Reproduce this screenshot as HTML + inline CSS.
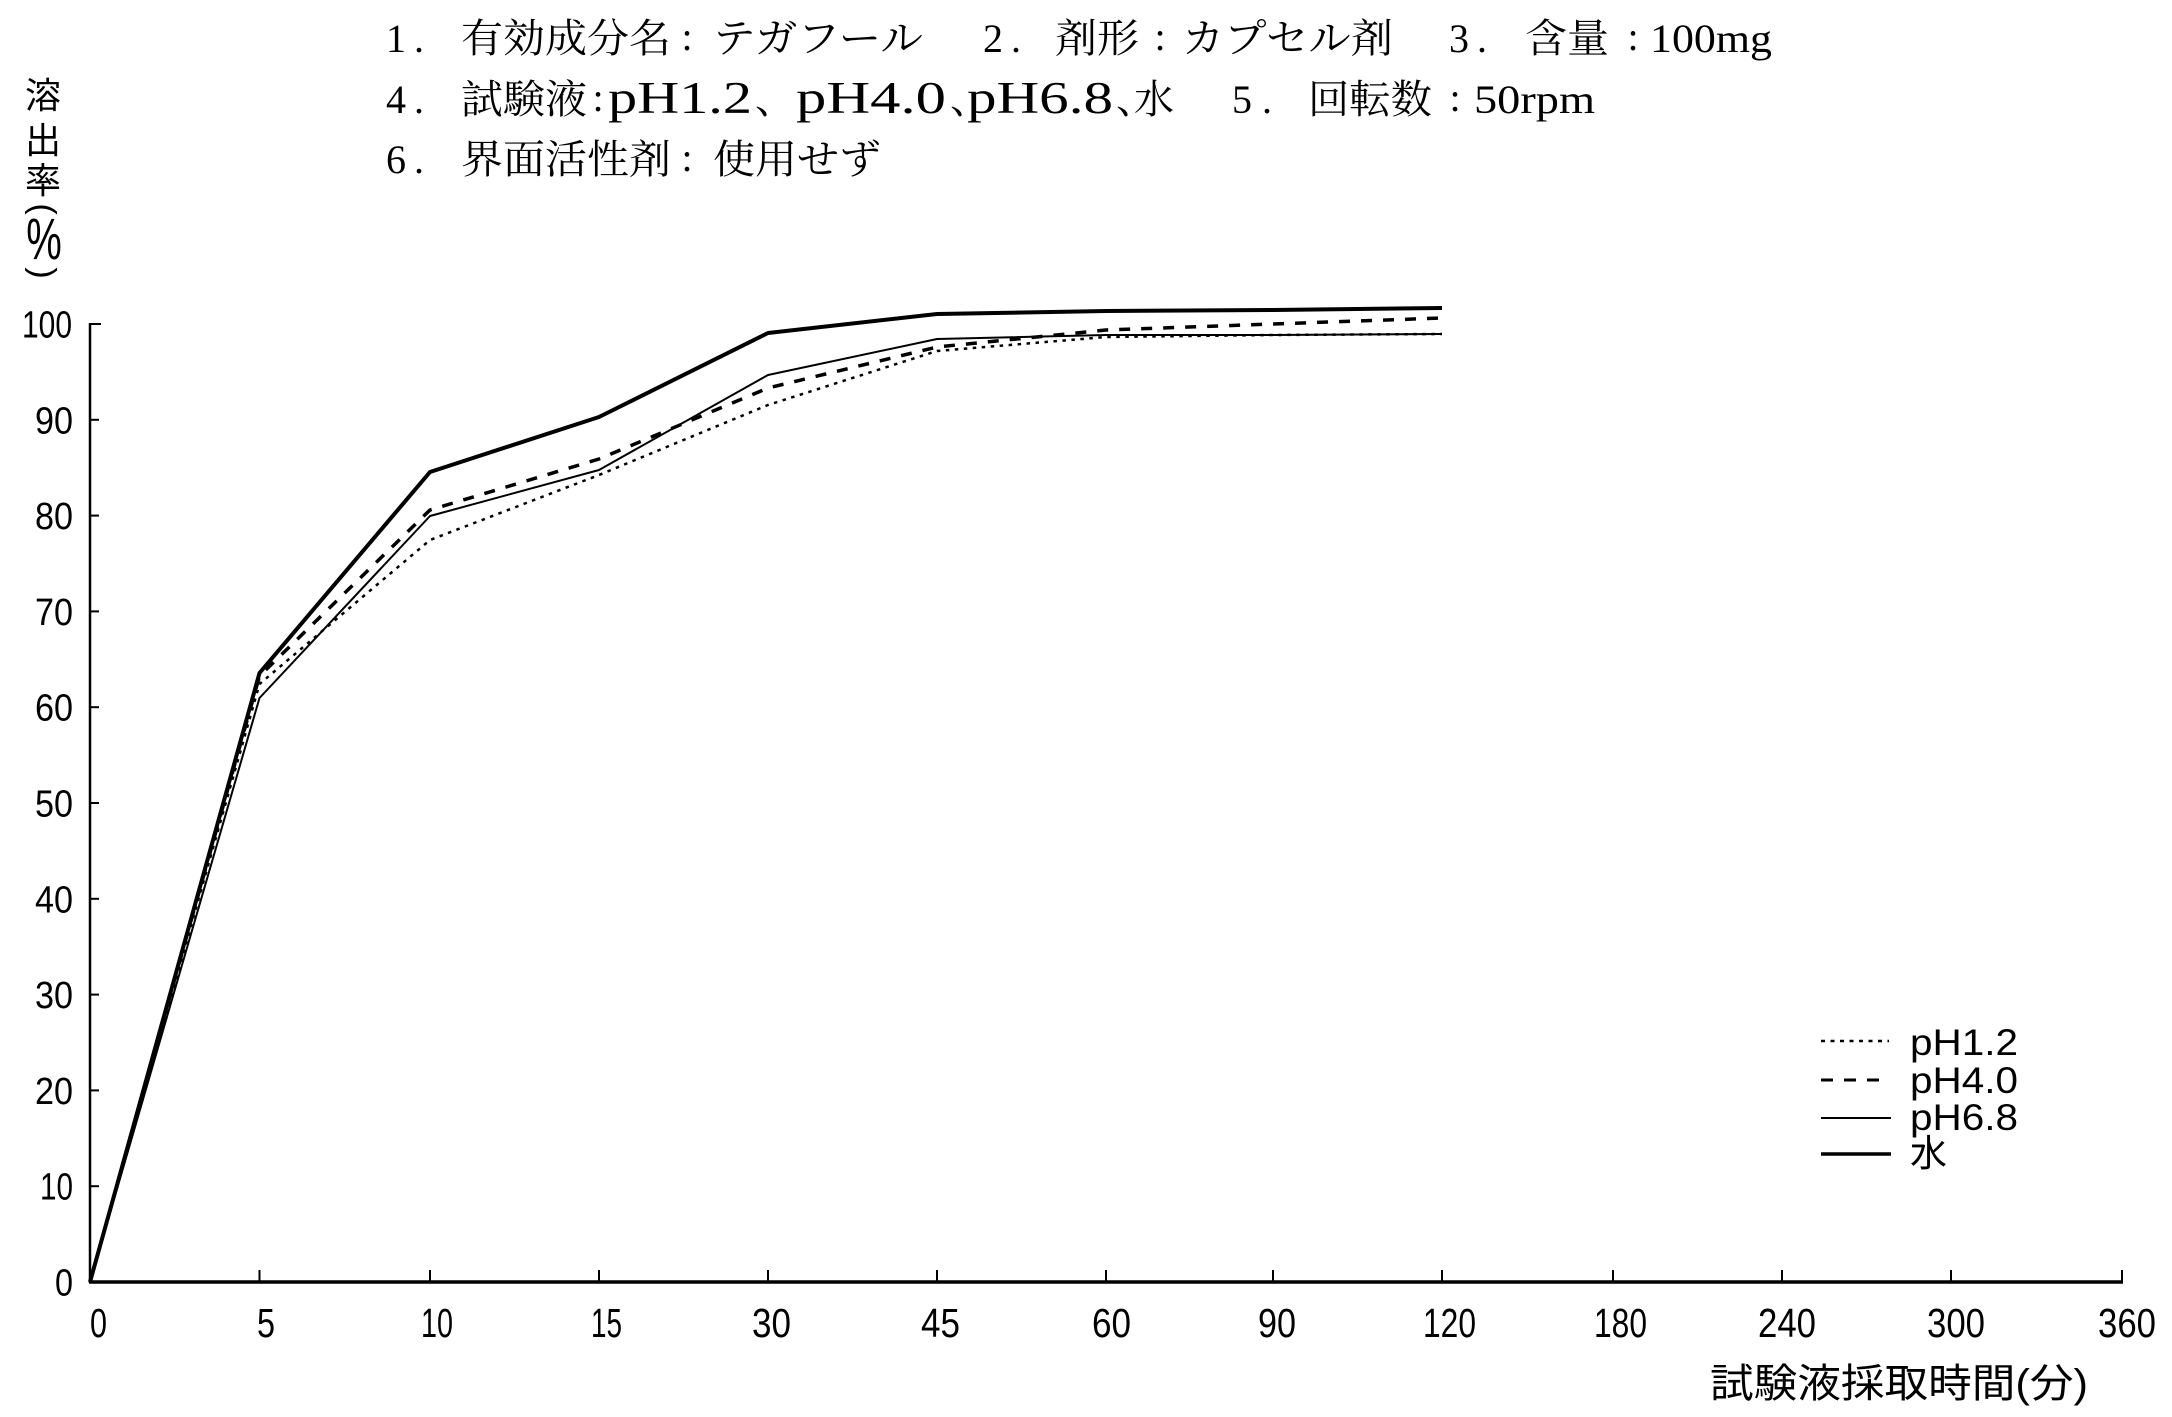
<!DOCTYPE html>
<html>
<head>
<meta charset="utf-8">
<style>
  html, body { margin: 0; padding: 0; background: #fff; }
  svg { display: block; }
  .ser { font-family: "Liberation Serif", "Noto Serif CJK SC", serif; font-size: 40px; fill: #000; }
  .san { font-family: "Liberation Sans", "Noto Sans CJK JP", sans-serif; fill: #000; }
</style>
</head>
<body>
<svg width="2172" height="1417" viewBox="0 0 2172 1417" xmlns="http://www.w3.org/2000/svg">
  <rect x="0" y="0" width="2172" height="1417" fill="#fff"/>

  <!-- Title line 1 -->
  <g class="ser">
    <text x="386" y="52">1</text>
    <text x="414" y="52">.</text>
    <text x="461" y="52" textLength="210" lengthAdjust="spacingAndGlyphs">有効成分名</text>
    <text x="687" y="50" text-anchor="middle">:</text>
    <text x="713" y="52" textLength="210" lengthAdjust="spacingAndGlyphs">テガフール</text>
    <text x="983" y="52">2</text>
    <text x="1011" y="52">.</text>
    <text x="1055" y="52" textLength="84" lengthAdjust="spacingAndGlyphs">剤形</text>
    <text x="1160" y="50" text-anchor="middle">:</text>
    <text x="1182" y="52" textLength="211" lengthAdjust="spacingAndGlyphs">カプセル剤</text>
    <text x="1449" y="52">3</text>
    <text x="1477" y="52">.</text>
    <text x="1525" y="52" textLength="84" lengthAdjust="spacingAndGlyphs">含量</text>
    <text x="1633" y="50" text-anchor="middle">:</text>
    <text x="1650" y="52" textLength="122" lengthAdjust="spacingAndGlyphs">100mg</text>
  </g>

  <!-- Title line 2 -->
  <g class="ser">
    <text x="386" y="113">4</text>
    <text x="414" y="113">.</text>
    <text x="461" y="113" textLength="126" lengthAdjust="spacingAndGlyphs">試験液</text>
    <text x="598" y="111" text-anchor="middle">:</text>
    <text x="608" y="113" font-size="45" textLength="144" lengthAdjust="spacingAndGlyphs">pH1.2</text>
    <text x="755" y="113">、</text>
    <text x="796" y="113" font-size="45" textLength="150" lengthAdjust="spacingAndGlyphs">pH4.0</text>
    <text x="950" y="113">、</text>
    <text x="967" y="113" font-size="45" textLength="146" lengthAdjust="spacingAndGlyphs">pH6.8</text>
    <text x="1116" y="113">、</text>
    <text x="1134" y="113">水</text>
    <text x="1232" y="113">5</text>
    <text x="1262" y="113">.</text>
    <text x="1308" y="113" textLength="124" lengthAdjust="spacingAndGlyphs">回転数</text>
    <text x="1455" y="111" text-anchor="middle">:</text>
    <text x="1474" y="113" textLength="121" lengthAdjust="spacingAndGlyphs">50rpm</text>
  </g>

  <!-- Title line 3 -->
  <g class="ser">
    <text x="386" y="173">6</text>
    <text x="414" y="173">.</text>
    <text x="461" y="173" textLength="210" lengthAdjust="spacingAndGlyphs">界面活性剤</text>
    <text x="687" y="171" text-anchor="middle">:</text>
    <text x="713" y="173" textLength="168" lengthAdjust="spacingAndGlyphs">使用せず</text>
  </g>

  <!-- Y axis title (vertical) -->
  <g class="san" font-size="36" text-anchor="middle">
    <text x="43" y="108">溶</text>
    <text x="43" y="153">出</text>
    <text x="43" y="193">率</text>
    <text x="0" y="0" transform="translate(43,209) rotate(90)" dominant-baseline="central" font-size="34">(</text>
    <text x="0" y="0" transform="translate(44,259) scale(1,1.45)" font-size="40">%</text>
    <text x="0" y="0" transform="translate(43,273) rotate(90)" dominant-baseline="central" font-size="34">)</text>
  </g>

  <!-- Y tick labels -->
  <g class="san" font-size="38">
    <text x="22" y="337.5" textLength="50" lengthAdjust="spacingAndGlyphs">100</text>
    <text x="35" y="433.3" textLength="38" lengthAdjust="spacingAndGlyphs">90</text>
    <text x="35" y="529.1" textLength="38" lengthAdjust="spacingAndGlyphs">80</text>
    <text x="35" y="624.9" textLength="38" lengthAdjust="spacingAndGlyphs">70</text>
    <text x="35" y="720.7" textLength="38" lengthAdjust="spacingAndGlyphs">60</text>
    <text x="35" y="816.5" textLength="38" lengthAdjust="spacingAndGlyphs">50</text>
    <text x="35" y="912.3" textLength="38" lengthAdjust="spacingAndGlyphs">40</text>
    <text x="35" y="1008.1" textLength="38" lengthAdjust="spacingAndGlyphs">30</text>
    <text x="35" y="1103.9" textLength="38" lengthAdjust="spacingAndGlyphs">20</text>
    <text x="40" y="1199.7" textLength="33" lengthAdjust="spacingAndGlyphs">10</text>
    <text x="55" y="1295.5" textLength="18" lengthAdjust="spacingAndGlyphs">0</text>
  </g>

  <!-- Axes -->
  <g stroke="#000" fill="none">
    <line x1="90" y1="323" x2="90" y2="1283" stroke-width="2.5"/>
    <line x1="89" y1="1282" x2="2123" y2="1282" stroke-width="3.5"/>
    <!-- y ticks -->
    <g stroke-width="2">
      <line x1="90" y1="324" x2="101" y2="324"/>
      <line x1="90" y1="419.8" x2="99" y2="419.8"/>
      <line x1="90" y1="515.6" x2="99" y2="515.6"/>
      <line x1="90" y1="611.4" x2="99" y2="611.4"/>
      <line x1="90" y1="707.2" x2="99" y2="707.2"/>
      <line x1="90" y1="803" x2="99" y2="803"/>
      <line x1="90" y1="898.8" x2="99" y2="898.8"/>
      <line x1="90" y1="994.6" x2="99" y2="994.6"/>
      <line x1="90" y1="1090.4" x2="99" y2="1090.4"/>
      <line x1="90" y1="1186.2" x2="99" y2="1186.2"/>
    </g>
    <!-- x ticks -->
    <g stroke-width="2">
      <line x1="259.5" y1="1282" x2="259.5" y2="1270"/>
      <line x1="430" y1="1282" x2="430" y2="1270"/>
      <line x1="599" y1="1282" x2="599" y2="1270"/>
      <line x1="768" y1="1282" x2="768" y2="1270"/>
      <line x1="937" y1="1282" x2="937" y2="1270"/>
      <line x1="1106" y1="1282" x2="1106" y2="1270"/>
      <line x1="1273" y1="1282" x2="1273" y2="1270"/>
      <line x1="1442" y1="1282" x2="1442" y2="1270"/>
      <line x1="1613" y1="1282" x2="1613" y2="1270"/>
      <line x1="1782" y1="1282" x2="1782" y2="1270"/>
      <line x1="1951" y1="1282" x2="1951" y2="1270"/>
      <line x1="2122" y1="1283" x2="2122" y2="1270"/>
    </g>
  </g>

  <!-- X tick labels -->
  <g class="san" font-size="41">
    <text x="90" y="1337" textLength="17" lengthAdjust="spacingAndGlyphs">0</text>
    <text x="257" y="1337" textLength="18" lengthAdjust="spacingAndGlyphs">5</text>
    <text x="421" y="1337" textLength="32" lengthAdjust="spacingAndGlyphs">10</text>
    <text x="591" y="1337" textLength="31" lengthAdjust="spacingAndGlyphs">15</text>
    <text x="752" y="1337" textLength="39" lengthAdjust="spacingAndGlyphs">30</text>
    <text x="921" y="1337" textLength="39" lengthAdjust="spacingAndGlyphs">45</text>
    <text x="1092" y="1337" textLength="39" lengthAdjust="spacingAndGlyphs">60</text>
    <text x="1258" y="1337" textLength="38" lengthAdjust="spacingAndGlyphs">90</text>
    <text x="1423" y="1337" textLength="53" lengthAdjust="spacingAndGlyphs">120</text>
    <text x="1594" y="1337" textLength="53" lengthAdjust="spacingAndGlyphs">180</text>
    <text x="1758" y="1337" textLength="58" lengthAdjust="spacingAndGlyphs">240</text>
    <text x="1927" y="1337" textLength="58" lengthAdjust="spacingAndGlyphs">300</text>
    <text x="2098" y="1337" textLength="58" lengthAdjust="spacingAndGlyphs">360</text>
  </g>

  <!-- X axis title -->
  <text class="san" font-size="40" x="1710" y="1397" textLength="378" lengthAdjust="spacingAndGlyphs">試験液採取時間(分)</text>

  <!-- Series -->
  <g fill="none" stroke="#000" stroke-linejoin="round">
    <!-- pH1.2 dotted -->
    <polyline stroke-width="2.5" stroke-dasharray="3.5 5.5"
      points="90,1282 259.5,684 430,540 599,475 768,405 937,351 1106,337 1273,335 1442,334"/>
    <!-- pH6.8 thin solid -->
    <polyline stroke-width="2"
      points="90,1282 259.5,698 430,516 599,470 768,375 937,339 1106,335 1273,335 1442,334"/>
    <!-- pH4.0 dashed -->
    <polyline stroke-width="3.5" stroke-dasharray="11 11"
      points="90,1282 259.5,676 430,510 599,459 768,388 937,347 1106,330 1273,324 1442,318"/>
    <!-- water thick solid -->
    <polyline stroke-width="4"
      points="90,1282 259.5,673 430,472 599,417 768,333 937,314 1106,311 1273,310 1442,308"/>
  </g>

  <!-- Legend -->
  <g fill="none" stroke="#000">
    <line x1="1821" y1="1041" x2="1889" y2="1041" stroke-width="2.5" stroke-dasharray="4 5.5"/>
    <line x1="1821" y1="1080" x2="1882" y2="1080" stroke-width="3" stroke-dasharray="12 11"/>
    <line x1="1821" y1="1118" x2="1891" y2="1118" stroke-width="2"/>
    <line x1="1821" y1="1154" x2="1891" y2="1154" stroke-width="3.5"/>
  </g>
  <g class="san" font-size="37">
    <text x="1910" y="1055" textLength="108" lengthAdjust="spacingAndGlyphs">pH1.2</text>
    <text x="1910" y="1093" textLength="108" lengthAdjust="spacingAndGlyphs">pH4.0</text>
    <text x="1910" y="1130" textLength="108" lengthAdjust="spacingAndGlyphs">pH6.8</text>
    <text x="1910" y="1166">水</text>
  </g>
</svg>
</body>
</html>
